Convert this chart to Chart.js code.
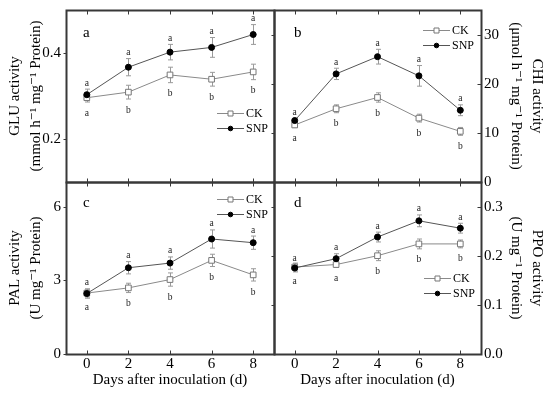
<!DOCTYPE html>
<html>
<head>
<meta charset="utf-8">
<script src="https://cdn.jsdelivr.net/npm/chart.js@4.4.1/dist/chart.umd.min.js"></script>
<style>
  html, body { margin: 0; padding: 0; background: #fff; }
  #wrap { position: relative; width: 550px; height: 393px; }
  #wrap canvas { position: absolute; left: 0; top: 0; }
</style>
</head>
<body>
<div id="wrap">
  <canvas id="chartA" width="550" height="393"></canvas>
  <canvas id="chartB" width="550" height="393"></canvas>
  <canvas id="chartC" width="550" height="393"></canvas>
  <canvas id="chartD" width="550" height="393"></canvas>
</div>
<script>
// x categories (days after inoculation)
const days = [0, 2, 4, 6, 8];
const dayTicks = [0, 2, 4, 6, 8];

// GLU (panel a)
const gluCK = [0.296, 0.309, 0.349, 0.339, 0.356];
const gluCKErr = [0.010, 0.016, 0.018, 0.016, 0.018];
const gluSNP = [0.303, 0.367, 0.402, 0.413, 0.443];
const gluSNPErr = [0.013, 0.020, 0.018, 0.023, 0.023];
const gluCKSig = ['a', 'b', 'b', 'b', 'b'];
const gluSNPSig = ['a', 'a', 'a', 'a', 'a'];
const gluTicks = [0.2, 0.4];

// CHI (panel b)
const chiCK = [11.6, 14.9, 17.2, 13.0, 10.3];
const chiCKErr = [0.5, 0.8, 0.95, 0.8, 0.8];
const chiSNP = [12.5, 22.0, 25.5, 21.6, 14.6];
const chiSNPErr = [0.5, 1.15, 1.5, 2.1, 1.1];
const chiCKSig = ['a', 'b', 'b', 'b', 'b'];
const chiSNPSig = ['a', 'a', 'a', 'a', 'a'];
const chiTicks = [0, 10, 20, 30];

// PAL (panel c)
const palCK = [2.48, 2.69, 3.03, 3.81, 3.22];
const palCKErr = [0.16, 0.19, 0.27, 0.25, 0.25];
const palSNP = [2.46, 3.51, 3.70, 4.68, 4.53];
const palSNPErr = [0.19, 0.25, 0.25, 0.37, 0.27];
const palCKSig = ['a', 'b', 'b', 'b', 'b'];
const palSNPSig = ['a', 'a', 'a', 'a', 'a'];
const palTicks = [0, 3, 6];

// PPO (panel d)
const ppoCK = [0.177, 0.182, 0.200, 0.224, 0.224];
const ppoCKErr = [0.008, 0.006, 0.010, 0.010, 0.008];
const ppoSNP = [0.175, 0.194, 0.238, 0.271, 0.256];
const ppoSNPErr = [0.008, 0.010, 0.010, 0.012, 0.010];
const ppoCKSig = ['a', 'a', 'b', 'b', 'b'];
const ppoSNPSig = ['a', 'a', 'a', 'a', 'a'];
const ppoTicks = [0, 0.1, 0.2, 0.3];

const FONT = "'Liberation Serif', 'DejaVu Serif', serif";
const FRAME = '#383838';
const CK_COLOR = '#8a8a8a';
const SNP_COLOR = '#555555';
const ERR_COLOR = '#9a9a9a';

// draws error bars, significance letters, frame + ticks, panel letter and legend
const panelDeco = {
  id: 'panelDeco',
  beforeDatasetsDraw(chart, args, opts) {
    const ctx = chart.ctx;
    const xs = chart.scales.x, ys = chart.scales.y;
    ctx.save();
    ctx.strokeStyle = ERR_COLOR;
    ctx.lineWidth = 1;
    chart.data.datasets.forEach(ds => {
      ds.data.forEach((p, i) => {
        const e = ds.errors[i];
        const x = Math.round(xs.getPixelForValue(p.x)) + 0.5;
        const y1 = ys.getPixelForValue(p.y + e);
        const y2 = ys.getPixelForValue(p.y - e);
        ctx.beginPath();
        ctx.moveTo(x, y1); ctx.lineTo(x, y2);
        ctx.moveTo(x - 2.5, y1); ctx.lineTo(x + 2.5, y1);
        ctx.moveTo(x - 2.5, y2); ctx.lineTo(x + 2.5, y2);
        ctx.stroke();
      });
    });
    ctx.restore();
  },
  afterDraw(chart, args, opts) {
    const ctx = chart.ctx;
    const area = chart.chartArea;
    const xs = chart.scales.x, ys = chart.scales.y;
    ctx.save();

    // significance letters
    ctx.fillStyle = '#222';
    ctx.font = '9.5px ' + FONT;
    ctx.textAlign = 'center';
    ctx.textBaseline = 'middle';
    chart.data.datasets.forEach(ds => {
      ds.data.forEach((p, i) => {
        const e = ds.errors[i];
        const x = xs.getPixelForValue(p.x);
        if (ds.sigAbove) {
          ctx.fillText(ds.sig[i], x, ys.getPixelForValue(p.y + e) - 6);
        } else {
          ctx.fillText(ds.sig[i], x, ys.getPixelForValue(p.y - e) + 11);
        }
      });
    });

    // frame
    const L = Math.round(area.left) + 0.5, R = Math.round(area.right) + 0.5;
    const T = Math.round(area.top) + 0.5, B = Math.round(area.bottom) + 0.5;
    ctx.strokeStyle = FRAME;
    ctx.lineWidth = 2;
    ctx.strokeRect(L, T, R - L, B - T);

    // tick marks
    ctx.lineWidth = 1;
    ctx.beginPath();
    xs.ticks.forEach(t => {
      const x = Math.round(xs.getPixelForValue(t.value)) + 0.5;
      ctx.moveTo(x, T); ctx.lineTo(x, T + 4);
      ctx.moveTo(x, B); ctx.lineTo(x, B - 4);
    });
    ys.ticks.forEach(t => {
      const y = Math.round(ys.getPixelForValue(t.value)) + 0.5;
      if (opts.side === 'left') {
        ctx.moveTo(L, y); ctx.lineTo(L - 3, y);
      } else {
        ctx.moveTo(R, y); ctx.lineTo(R - 4, y);
        ctx.moveTo(L, y); ctx.lineTo(L - 3, y);
      }
    });
    ctx.stroke();

    // panel letter
    ctx.fillStyle = '#000';
    ctx.font = '15px ' + FONT;
    ctx.textAlign = 'left';
    ctx.textBaseline = 'middle';
    ctx.fillText(opts.letter, area.left + opts.letterPos[0], area.top + opts.letterPos[1]);

    // legend
    ctx.font = '12px ' + FONT;
    chart.data.datasets.forEach((ds, i) => {
      const lx = area.left + opts.legendPos[0];
      const ly = Math.round(area.top + opts.legendPos[1] + i * 15) + 0.5;
      ctx.strokeStyle = ds.borderColor;
      ctx.beginPath();
      ctx.moveTo(lx, ly); ctx.lineTo(lx + 27, ly);
      ctx.stroke();
      const mx = lx + 13.5;
      ctx.beginPath();
      if (ds.pointStyle === 'rect') {
        ctx.rect(mx - 2.5, ly - 2.5, 5, 5);
      } else {
        ctx.arc(mx, ly, 2.3, 0, Math.PI * 2);
      }
      ctx.fillStyle = ds.pointBackgroundColor;
      ctx.fill();
      ctx.strokeStyle = ds.pointBorderColor;
      ctx.stroke();
      ctx.fillStyle = '#000';
      ctx.fillText(ds.label, lx + 29, ly + 0.5);
    });
    ctx.restore();
  }
};

function series(label, values, errors, sig, isSNP) {
  return {
    label: label,
    data: days.map((d, i) => ({ x: d, y: values[i] })),
    errors: errors,
    sig: sig,
    sigAbove: isSNP,
    borderColor: isSNP ? SNP_COLOR : CK_COLOR,
    borderWidth: 1,
    pointStyle: isSNP ? 'circle' : 'rect',
    pointRadius: isSNP ? 3 : 4,
    pointBackgroundColor: isSNP ? '#000' : '#fff',
    pointBorderColor: isSNP ? '#000' : '#777',
    pointBorderWidth: 1,
    tension: 0,
    order: isSNP ? 0 : 1
  };
}

// keep chart areas exactly where the padding puts them
function noPad(s) {
  s.paddingTop = 0; s.paddingBottom = 0;
  s.paddingLeft = 0; s.paddingRight = 0;
}

function makePanel(id, cfg) {
  const side = cfg.side;
  new Chart(document.getElementById(id), {
    type: 'line',
    data: {
      datasets: [
        series('CK', cfg.ck, cfg.ckErr, cfg.ckSig, false),
        series('SNP', cfg.snp, cfg.snpErr, cfg.snpSig, true)
      ]
    },
    options: {
      responsive: false,
      animation: false,
      layout: { padding: cfg.padding },
      plugins: {
        legend: { display: false },
        tooltip: { enabled: false },
        panelDeco: { side: side, letter: cfg.letter, letterPos: cfg.letterPos, legendPos: cfg.legendPos }
      },
      scales: {
        x: {
          type: 'linear',
          position: 'bottom',
          min: -1,
          max: 9,
          afterBuildTicks: s => { s.ticks = dayTicks.map(v => ({ value: v })); },
          afterFit: s => { s.height = cfg.showX ? 39 : 0; noPad(s); },
          grid: { display: false, drawTicks: false },
          border: { display: false },
          ticks: {
            display: cfg.showX,
            padding: 1,
            color: '#000',
            font: { family: FONT, size: 15 }
          },
          title: {
            display: cfg.showX,
            text: 'Days after inoculation (d)',
            color: '#000',
            font: { family: FONT, size: 15 },
            padding: { top: 0, bottom: 4 }
          }
        },
        y: {
          type: 'linear',
          position: side,
          min: cfg.yMin,
          max: cfg.yMax,
          afterBuildTicks: s => { s.ticks = cfg.yTicks.map(v => ({ value: v })); },
          afterFit: s => { s.width = side === 'left' ? 66 : 69; noPad(s); },
          grid: { display: false, drawTicks: false },
          border: { display: false },
          ticks: {
            padding: side === 'left' ? 5 : 3,
            color: '#000',
            font: { family: FONT, size: 15 },
            callback: v => v.toFixed(cfg.decimals)
          },
          title: {
            display: true,
            text: cfg.title,
            color: '#000',
            font: { family: FONT, size: 15, lineHeight: 1.4 },
            padding: { top: side === 'left' ? 4.5 : 2.5, bottom: 0 }
          }
        }
      }
    },
    plugins: [panelDeco]
  });
}

makePanel('chartA', {
  side: 'left', showX: false,
  padding: { top: 10, left: 0, right: 276, bottom: 211 },
  ck: gluCK, ckErr: gluCKErr, ckSig: gluCKSig,
  snp: gluSNP, snpErr: gluSNPErr, snpSig: gluSNPSig,
  yMin: 0.1, yMax: 0.5, yTicks: gluTicks, decimals: 1,
  title: ['GLU activity', '(mmol h\u207B\u00B9 mg\u207B\u00B9 Protein)'],
  letter: 'a', letterPos: [17, 23], legendPos: [151, 103]
});

makePanel('chartB', {
  side: 'right', showX: false,
  padding: { top: 10, left: 274, right: 0, bottom: 211 },
  ck: chiCK, ckErr: chiCKErr, ckSig: chiCKSig,
  snp: chiSNP, snpErr: chiSNPErr, snpSig: chiSNPSig,
  yMin: 0, yMax: 35, yTicks: chiTicks, decimals: 0,
  title: ['CHI activity', '(\u03BCmol h\u207B\u00B9 mg\u207B\u00B9 Protein)'],
  letter: 'b', letterPos: [20, 23], legendPos: [149, 20]
});

makePanel('chartC', {
  side: 'left', showX: true,
  padding: { top: 182, left: 0, right: 276, bottom: 0 },
  ck: palCK, ckErr: palCKErr, ckSig: palCKSig,
  snp: palSNP, snpErr: palSNPErr, snpSig: palSNPSig,
  yMin: 0, yMax: 7, yTicks: palTicks, decimals: 0,
  title: ['PAL activity', '(U mg\u207B\u00B9 Protein)'],
  letter: 'c', letterPos: [17, 21], legendPos: [151, 17]
});

makePanel('chartD', {
  side: 'right', showX: true,
  padding: { top: 182, left: 274, right: 0, bottom: 0 },
  ck: ppoCK, ckErr: ppoCKErr, ckSig: ppoCKSig,
  snp: ppoSNP, snpErr: ppoSNPErr, snpSig: ppoSNPSig,
  yMin: 0, yMax: 0.35, yTicks: ppoTicks, decimals: 1,
  title: ['PPO activity', '(U mg\u207B\u00B9 Protein)'],
  letter: 'd', letterPos: [20, 21], legendPos: [150, 96]
});
</script>
</body>
</html>
